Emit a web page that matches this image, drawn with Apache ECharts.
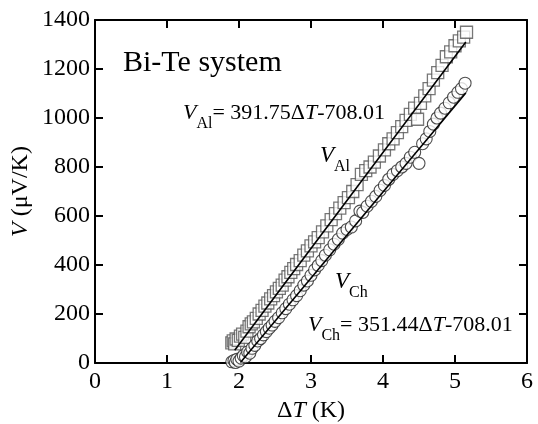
<!DOCTYPE html>
<html>
<head>
<meta charset="utf-8">
<script src="https://cdn.jsdelivr.net/npm/echarts@6/dist/echarts.min.js"></script>
<style>
html, body { margin: 0; padding: 0; background: #fff; }
#chart { width: 538px; height: 424px; }
</style>
</head>
<body>
<div id="chart"></div>
<script>
// V_Al (squares): [dT (K), V]
var alPoints = [
  [1.90, 82], [1.92, 90], [1.94, 78], [1.96, 98], [1.99, 92], [2.02, 110], [2.05, 118],
  [2.08, 105], [2.11, 130], [2.14, 148], [2.17, 160], [2.20, 168], [2.24, 182], [2.28, 200],
  [2.32, 215], [2.36, 232], [2.40, 245], [2.44, 262], [2.48, 275], [2.52, 290], [2.56, 305],
  [2.60, 318], [2.64, 338], [2.68, 352], [2.72, 370], [2.76, 385], [2.80, 402], [2.85, 418],
  [2.90, 440], [2.95, 458], [3.00, 478], [3.05, 494], [3.10, 512], [3.16, 535], [3.22, 560],
  [3.28, 585], [3.34, 610], [3.40, 632], [3.46, 655], [3.52, 675], [3.58, 700], [3.64, 728],
  [3.70, 770], [3.76, 785], [3.82, 800], [3.88, 820], [3.95, 845], [4.02, 870], [4.08, 895],
  [4.14, 915], [4.20, 940], [4.26, 965], [4.32, 990], [4.38, 1015], [4.44, 1040], [4.48, 995],
  [4.52, 1060], [4.58, 1090], [4.64, 1120], [4.70, 1155], [4.76, 1185], [4.82, 1215],
  [4.88, 1250], [4.94, 1270], [5.00, 1295], [5.06, 1315], [5.12, 1330], [5.16, 1350]
];
// V_Ch (circles)
var chPoints = [
  [1.90, 5], [1.93, 10], [1.95, 2], [1.97, 15], [2.00, 8], [2.03, 20], [2.06, 30], [2.09, 25],
  [2.12, 45], [2.15, 40], [2.18, 60], [2.22, 72], [2.26, 90], [2.30, 100], [2.34, 115],
  [2.38, 128], [2.42, 142], [2.46, 155], [2.50, 170], [2.55, 185], [2.60, 205], [2.65, 222],
  [2.70, 240], [2.75, 258], [2.80, 275], [2.85, 295], [2.90, 318], [2.95, 335], [3.00, 358],
  [3.05, 380], [3.10, 398], [3.15, 418], [3.20, 440], [3.26, 462], [3.32, 485], [3.38, 505],
  [3.44, 530], [3.50, 545], [3.56, 555], [3.62, 580], [3.68, 620], [3.72, 615], [3.78, 640],
  [3.84, 660], [3.90, 680], [3.96, 705], [4.02, 725], [4.08, 750], [4.14, 770], [4.20, 785],
  [4.26, 800], [4.32, 815], [4.38, 840], [4.44, 860], [4.50, 815], [4.55, 895], [4.60, 915],
  [4.65, 945], [4.70, 975], [4.75, 1000], [4.80, 1020], [4.86, 1040], [4.92, 1062],
  [4.98, 1085], [5.04, 1105], [5.09, 1120], [5.14, 1142]
];
// fitted lines, end points
var alFit = [[1.94, 52], [5.15, 1310]];
var chFit = [[2.02, 2], [5.15, 1102]];

var FONT = 'Liberation Serif';

var chart = echarts.init(document.getElementById('chart'));

// text pieces laid out one after another (italic V, subscripts)
var measureCtx = document.createElement('canvas').getContext('2d');
function fontStr(p) {
    return (p.i ? 'italic ' : '') + p.s + 'px "' + FONT + '"';
}
function richText(x, y, pieces) {
    var els = [];
    var cx = x;
    pieces.forEach(function (p) {
        var f = fontStr(p);
        measureCtx.font = f;
        els.push({
            type: 'text',
            x: cx,
            y: y + (p.sub ? 11 : 0),
            style: { text: p.t, font: f, fill: '#000', verticalAlign: 'middle' }
        });
        cx += measureCtx.measureText(p.t).width;
    });
    return els;
}

var graphics = [].concat(
    [{ type: 'text', x: 123, y: 63, style: { text: 'Bi-Te system', font: '30px "' + FONT + '"', fill: '#000', verticalAlign: 'middle' } }],
    richText(183, 113, [{ t: 'V', s: 22, i: true }, { t: 'Al', s: 16, sub: true }, { t: '= 391.75Δ', s: 22 }, { t: 'T', s: 22, i: true }, { t: '-708.01', s: 22 }]),
    richText(320, 156, [{ t: 'V', s: 23, i: true }, { t: 'Al', s: 16, sub: true }]),
    richText(335, 282, [{ t: 'V', s: 23, i: true }, { t: 'Ch', s: 16, sub: true }]),
    richText(308, 325, [{ t: 'V', s: 22, i: true }, { t: 'Ch', s: 16, sub: true }, { t: '= 351.44Δ', s: 22 }, { t: 'T', s: 22, i: true }, { t: '-708.01', s: 22 }])
);

var axisLine = { show: true, onZero: false, lineStyle: { color: '#000', width: 2 } };
var axisTick = { show: true, inside: true, length: 8, lineStyle: { color: '#000', width: 2 } };
var labelStyle = { color: '#000', fontSize: 24, fontFamily: FONT };

var option = {
    animation: false,
    backgroundColor: '#fff',
    grid: { left: 95, right: 11, top: 20, bottom: 61, outerBoundsMode: 'none' },
    xAxis: [{
        type: 'value', min: 0, max: 6, interval: 1, position: 'bottom',
        axisLine: axisLine, axisTick: axisTick, splitLine: { show: false },
        axisLabel: Object.assign({ margin: 7, formatter: function (v) { return String(v); } }, labelStyle),
        name: 'Δ{i|T} (K)', nameLocation: 'middle', nameGap: 34,
        nameTextStyle: Object.assign({ rich: { i: { fontStyle: 'italic', fontSize: 24, fontFamily: FONT, color: '#000' } } }, labelStyle)
    }, {
        type: 'value', min: 0, max: 6, interval: 1, position: 'top',
        axisLine: axisLine, axisTick: axisTick, splitLine: { show: false },
        axisLabel: { show: false }
    }],
    yAxis: [{
        type: 'value', min: 0, max: 1400, interval: 200, position: 'left',
        axisLine: axisLine, axisTick: axisTick, splitLine: { show: false },
        axisLabel: Object.assign({ margin: 5, formatter: function (v) { return String(v); } }, labelStyle),
        name: '{i|V} (μV/K)', nameLocation: 'middle', nameGap: 62, nameRotate: 90,
        nameMoveOverlap: false,
        nameTextStyle: Object.assign({ rich: { i: { fontStyle: 'italic', fontSize: 24, fontFamily: FONT, color: '#000' } } }, labelStyle)
    }, {
        type: 'value', min: 0, max: 1400, interval: 200, position: 'right',
        axisLine: axisLine, axisTick: axisTick, splitLine: { show: false },
        axisLabel: { show: false }
    }],
    series: [{
        type: 'scatter', data: alPoints, symbol: 'rect', symbolSize: 12,
        itemStyle: { color: '#fff', borderColor: '#555', borderWidth: 1.3 }, z: 2
    }, {
        type: 'scatter', data: chPoints, symbol: 'circle', symbolSize: 12,
        itemStyle: { color: '#fff', borderColor: '#222', borderWidth: 1.1 }, z: 3
    }, {
        type: 'line', data: alFit, showSymbol: false, symbol: 'none',
        lineStyle: { color: '#000', width: 1.6 }, z: 4
    }, {
        type: 'line', data: chFit, showSymbol: false, symbol: 'none',
        lineStyle: { color: '#000', width: 1.6 }, z: 4
    }],
    graphic: graphics
};

chart.setOption(option);
</script>
</body>
</html>
